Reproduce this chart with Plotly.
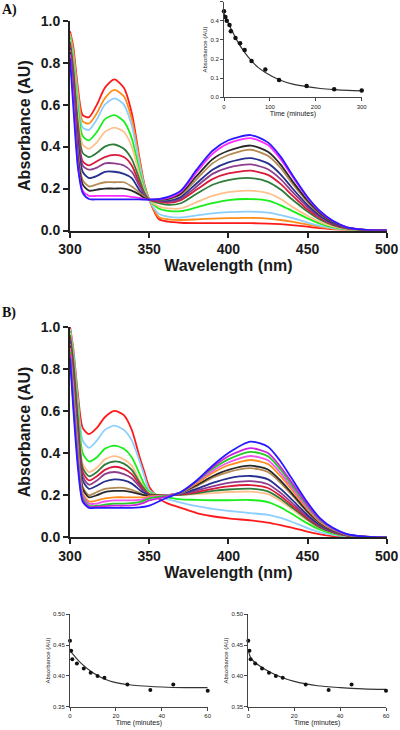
import plotly.graph_objects as go

# ---------------- data ----------------
wavelength = [300, 302, 305, 308, 312, 317, 322, 328, 334, 339, 344, 347, 350,
              356, 362, 370, 380, 390, 400, 414, 425, 433, 440, 450, 458, 466, 475, 485, 495, 500]

# Panel A spectra (first scan -> last scan)
a_red = [.95,.88,.68,.55,.54,.60,.68,.72,.68,.56,.34,.22,.147, .055,.042,.037,.035,.035,.035,.035,.033,.03,.026,.018,.011,.006,.002,0,0,0]
a_orange = [.94,.86,.66,.52,.51,.56,.63,.67,.64,.53,.33,.21,.147, .065,.053,.05,.053,.057,.059,.06,.057,.05,.042,.028,.017,.008,.003,.001,0,0]
a_lightblue = [.93,.84,.63,.49,.48,.53,.60,.63,.60,.50,.31,.21,.147, .08,.066,.062,.072,.082,.088,.09,.085,.073,.06,.038,.022,.011,.004,.001,0,0]
a_green = [.92,.82,.59,.45,.43,.47,.53,.55,.52,.44,.28,.20,.147, .105,.094,.092,.11,.13,.145,.15,.142,.12,.095,.058,.033,.016,.006,.002,0,0]
a_peach = [.91,.80,.55,.41,.39,.42,.47,.49,.47,.40,.26,.19,.147, .115,.105,.105,.135,.165,.183,.19,.178,.15,.115,.07,.04,.02,.007,.002,0,0]
a_darkgreen = [.90,.78,.51,.37,.35,.37,.40,.41,.39,.34,.24,.18,.147, .13,.122,.13,.175,.218,.24,.25,.232,.195,.15,.09,.051,.026,.009,.002,0,0]
a_crimson = [.89,.76,.48,.33,.31,.33,.35,.36,.35,.31,.22,.17,.147, .138,.132,.145,.195,.245,.272,.285,.265,.222,.17,.1,.058,.029,.01,.003,0,0]
a_purple = [.88,.74,.45,.31,.29,.30,.32,.32,.31,.28,.21,.17,.147, .142,.137,.152,.21,.27,.30,.315,.292,.245,.188,.112,.064,.032,.011,.003,0,0]
a_navy = [.87,.72,.42,.28,.25,.26,.28,.28,.27,.25,.19,.16,.147, .145,.142,.16,.225,.29,.325,.345,.32,.268,.205,.122,.07,.035,.012,.003,0,0]
a_tan = [.86,.70,.38,.24,.21,.22,.23,.23,.23,.21,.18,.16,.147, .147,.148,.17,.245,.32,.36,.385,.356,.298,.228,.136,.078,.039,.013,.004,0,0]
a_black = [.85,.68,.35,.22,.19,.195,.20,.20,.20,.19,.17,.155,.147, .148,.151,.176,.26,.34,.38,.405,.375,.314,.24,.143,.082,.041,.014,.004,0,0]
a_magenta = [.84,.65,.32,.19,.165,.165,.165,.165,.165,.16,.155,.15,.147, .149,.155,.184,.278,.365,.415,.44,.407,.34,.262,.155,.089,.045,.015,.004,0,0]
a_blue = [.82,.60,.30,.18,.15,.148,.148,.148,.148,.148,.148,.147,.147, .15,.16,.19,.29,.38,.43,.455,.42,.352,.27,.16,.092,.046,.015,.004,0,0]

# Panel B spectra
b_red = [1.0,.90,.68,.52,.49,.52,.57,.60,.58,.51,.38,.31,.24, .185,.16,.14,.115,.10,.09,.08,.07,.058,.046,.027,.014,.006,.002,0,0,0]
b_lightblue = [.99,.89,.65,.46,.425,.46,.51,.53,.51,.46,.36,.29,.225, .195,.18,.165,.148,.135,.125,.115,.107,.092,.074,.044,.024,.011,.004,.001,0,0]
b_green = [.98,.87,.62,.40,.36,.38,.42,.435,.42,.38,.30,.25,.215, .2,.19,.18,.178,.176,.176,.177,.167,.142,.112,.066,.036,.018,.006,.002,0,0]
b_peach = [.97,.85,.58,.35,.31,.33,.37,.385,.37,.34,.27,.235,.21, .2,.2,.2,.205,.21,.215,.217,.205,.172,.135,.08,.044,.022,.007,.002,0,0]
b_darkgreen = [.96,.84,.56,.33,.29,.31,.345,.36,.35,.32,.26,.23,.205, .2,.2,.202,.21,.22,.227,.231,.218,.183,.143,.085,.046,.023,.008,.002,0,0]
b_crimson = [.95,.82,.54,.31,.27,.29,.32,.335,.325,.30,.25,.22,.203, .2,.2,.204,.215,.23,.242,.248,.234,.196,.153,.09,.05,.025,.008,.002,0,0]
b_purple = [.94,.80,.52,.29,.25,.27,.30,.31,.30,.28,.24,.215,.20, .2,.2,.206,.222,.242,.258,.267,.252,.211,.165,.097,.054,.027,.009,.002,0,0]
b_navy = [.93,.78,.50,.27,.23,.245,.265,.275,.27,.255,.225,.21,.20, .2,.2,.208,.23,.258,.28,.291,.275,.23,.18,.106,.058,.029,.01,.003,0,0]
b_tan = [.92,.76,.47,.24,.20,.215,.23,.235,.235,.225,.21,.20,.198, .2,.2,.21,.243,.283,.31,.328,.31,.259,.202,.119,.066,.033,.011,.003,0,0]
b_black = [.91,.74,.45,.23,.19,.20,.215,.22,.22,.215,.205,.20,.198, .2,.2,.211,.248,.29,.32,.34,.322,.269,.21,.123,.068,.034,.011,.003,0,0]
b_orange = [.90,.72,.43,.21,.17,.175,.185,.19,.19,.19,.19,.19,.195, .198,.2,.212,.256,.305,.342,.367,.348,.29,.226,.133,.073,.037,.012,.003,0,0]
b_pink = [.89,.70,.41,.20,.16,.16,.17,.175,.175,.175,.178,.183,.19, .195,.2,.213,.262,.315,.355,.386,.366,.305,.238,.14,.077,.039,.013,.003,0,0]
b_green2 = [.88,.68,.39,.19,.15,.15,.155,.16,.16,.162,.167,.175,.185, .192,.198,.213,.266,.325,.37,.406,.385,.321,.25,.147,.081,.041,.013,.004,0,0]
b_magenta = [.87,.65,.36,.18,.145,.145,.148,.15,.15,.152,.158,.165,.175, .185,.195,.214,.268,.333,.385,.423,.40,.334,.261,.154,.085,.042,.014,.004,0,0]
b_blue = [.85,.62,.33,.17,.14,.14,.14,.14,.14,.14,.142,.145,.15, .17,.19,.215,.27,.34,.40,.454,.43,.36,.28,.165,.09,.045,.015,.004,0,0]

# Inset (panel A) kinetics
inset_time = [0, 3, 6, 12, 15, 25, 35, 45, 60, 90, 120, 180, 240, 300]
inset_abs = [0.45, 0.42, 0.40, 0.378, 0.345, 0.31, 0.283, 0.248, 0.19, 0.146, 0.09, 0.059, 0.042, 0.035]
inset_fit_time = [0, 10, 20, 30, 45, 60, 75, 90, 120, 150, 180, 210, 240, 270, 300]
inset_fit_abs = [0.44, 0.385, 0.336, 0.29, 0.235, 0.19, 0.155, 0.13, 0.092, 0.069, 0.056, 0.046, 0.04, 0.036, 0.034]

# Panel B kinetics (two fits of the same data)
kin_time = [0, 0.5, 1, 3, 6, 9, 12, 15, 25, 35, 45, 60]
kin_abs = [0.457, 0.441, 0.427, 0.420, 0.412, 0.405, 0.400, 0.397, 0.386, 0.377, 0.386, 0.376]
fit1_time = [0, 2, 5, 10, 15, 20, 25, 30, 40, 50, 60]
fit1_abs = [0.441, 0.432, 0.42, 0.405, 0.395, 0.389, 0.386, 0.384, 0.382, 0.381, 0.381]
fit2_time = [0, 1, 2, 5, 10, 15, 20, 25, 30, 40, 50, 60]
fit2_abs = [0.44, 0.43, 0.425, 0.416, 0.405, 0.397, 0.391, 0.387, 0.384, 0.381, 0.379, 0.378]

a_series = [a_red, a_orange, a_lightblue, a_green, a_peach, a_darkgreen, a_crimson,
            a_purple, a_navy, a_tan, a_black, a_magenta, a_blue]
a_colors = ["#ff1a1a", "#ff8c1a", "#8ccfff", "#1aee1a", "#ffc08c", "#2f7d3a", "#d91a3a",
            "#8e3d8e", "#26308f", "#b58a52", "#2a2a2a", "#ff2bff", "#2a1aff"]
b_series = [b_red, b_lightblue, b_green, b_peach, b_darkgreen, b_crimson, b_purple, b_navy,
            b_tan, b_black, b_orange, b_pink, b_green2, b_magenta, b_blue]
b_colors = ["#ff1a1a", "#8ccfff", "#1aee1a", "#ffc08c", "#2f7d3a", "#d91a3a", "#8e3d8e", "#26308f",
            "#b58a52", "#2a2a2a", "#ff8c1a", "#ee55ee", "#22cc22", "#cc22dd", "#2a1aff"]

fig = go.Figure()

for ys, c in zip(a_series, a_colors):
    fig.add_trace(go.Scatter(x=wavelength, y=ys, mode="lines", xaxis="x", yaxis="y",
                             line=dict(color=c, width=1.8, shape="spline", smoothing=0.7)))
for ys, c in zip(b_series, b_colors):
    fig.add_trace(go.Scatter(x=wavelength, y=ys, mode="lines", xaxis="x3", yaxis="y3",
                             line=dict(color=c, width=1.8, shape="spline", smoothing=0.7)))

# inset
fig.add_trace(go.Scatter(x=inset_fit_time, y=inset_fit_abs, mode="lines", xaxis="x2", yaxis="y2",
                         line=dict(color="#333333", width=1.2, shape="spline")))
fig.add_trace(go.Scatter(x=inset_time, y=inset_abs, mode="markers", xaxis="x2", yaxis="y2",
                         marker=dict(color="#111111", size=4.5), cliponaxis=False))
# bottom kinetics
fig.add_trace(go.Scatter(x=fit1_time, y=fit1_abs, mode="lines", xaxis="x4", yaxis="y4",
                         line=dict(color="#333333", width=1.2, shape="spline")))
fig.add_trace(go.Scatter(x=kin_time, y=kin_abs, mode="markers", xaxis="x4", yaxis="y4",
                         marker=dict(color="#111111", size=4), cliponaxis=False))
fig.add_trace(go.Scatter(x=fit2_time, y=fit2_abs, mode="lines", xaxis="x5", yaxis="y5",
                         line=dict(color="#333333", width=1.2, shape="spline")))
fig.add_trace(go.Scatter(x=kin_time, y=kin_abs, mode="markers", xaxis="x5", yaxis="y5",
                         marker=dict(color="#111111", size=4), cliponaxis=False))

H = 730.0
def yd(top_px, bottom_px):
    return [1 - bottom_px / H, 1 - top_px / H]

big_font = dict(family="Liberation Sans, Arial, sans-serif", size=14, color="#1a1a1a", weight="bold")
big_title = dict(family="Liberation Sans, Arial, sans-serif", size=16, color="#1a1a1a", weight="bold")
small_font = dict(family="Liberation Sans, Arial, sans-serif", size=6, color="#222222")

def big_x(domain, anchor):
    return dict(domain=domain, anchor=anchor, range=[300, 500], tickvals=[300, 350, 400, 450, 500],
                showline=True, linecolor="#222222", linewidth=2, ticks="outside", ticklen=5,
                tickwidth=2, tickcolor="#222222", showgrid=False, zeroline=False, tickfont=big_font,
                automargin=False,
                title=dict(text="Wavelength (nm)", font=big_title, standoff=4))

def big_y(domain, anchor):
    return dict(domain=domain, anchor=anchor, range=[0, 1], tickvals=[0, 0.2, 0.4, 0.6, 0.8, 1.0],
                tickformat=".1f", showline=True, linecolor="#222222", linewidth=2, ticks="outside",
                ticklen=5, tickwidth=2, tickcolor="#222222", showgrid=False, zeroline=False,
                automargin=False,
                tickfont=big_font, title=dict(text="Absorbance (AU)", font=big_title, standoff=6))

def small_x(domain, anchor, rng, vals):
    return dict(domain=domain, anchor=anchor, range=rng, tickvals=vals, showline=True,
                linecolor="#444444", linewidth=1, ticks="outside", ticklen=3, tickwidth=1,
                tickcolor="#444444", showgrid=False, zeroline=False, tickfont=small_font,
                automargin=False,
                title=dict(text="Time (minutes)", font=dict(family="Liberation Sans, Arial, sans-serif", size=7, color="#222222"), standoff=2))

def small_y(domain, anchor, rng, vals, fmt):
    return dict(domain=domain, anchor=anchor, range=rng, tickvals=vals, tickformat=fmt,
                showline=True, linecolor="#444444", linewidth=1, ticks="outside", ticklen=3,
                tickwidth=1, tickcolor="#444444", showgrid=False, zeroline=False, tickfont=small_font,
                automargin=False,
                title=dict(text="Absorbance (AU)", font=dict(family="Liberation Sans, Arial, sans-serif", size=6, color="#222222"), standoff=2))

fig.update_layout(
    width=400, height=730, margin=dict(l=0, r=0, t=0, b=0, autoexpand=False),
    paper_bgcolor="white", plot_bgcolor="rgba(0,0,0,0)", showlegend=False,
    xaxis=big_x([70 / 400, 386.7 / 400], "y"),
    yaxis=big_y(yd(20.7, 230.5), "x"),
    xaxis2=small_x([224 / 400, 361.7 / 400], "y2", [0, 300], [0, 100, 200, 300]),
    yaxis2=small_y(yd(1.7, 97.3), "x2", [0, 0.5], [0, 0.1, 0.2, 0.3, 0.4, 0.5], ".1f"),
    xaxis3=big_x([70 / 400, 386.7 / 400], "y3"),
    yaxis3=big_y(yd(326.7, 537.3), "x3"),
    xaxis4=small_x([70 / 400, 207.7 / 400], "y4", [0, 60], [0, 20, 40, 60]),
    yaxis4=small_y(yd(614.3, 706.7), "x4", [0.35, 0.50], [0.35, 0.40, 0.45, 0.50], ".2f"),
    xaxis5=small_x([248.3 / 400, 386 / 400], "y5", [0, 60], [0, 20, 40, 60]),
    yaxis5=small_y(yd(614.3, 706.7), "x5", [0.35, 0.50], [0.35, 0.40, 0.45, 0.50], ".2f"),
    annotations=[
        dict(text="A)", x=0, y=1 - 10 / H, xref="paper", yref="paper", xanchor="left", yanchor="middle",
             showarrow=False, font=dict(family="Liberation Serif, Times New Roman, serif", size=14, color="#111111", weight="bold")),
        dict(text="B)", x=0, y=1 - 313 / H, xref="paper", yref="paper", xanchor="left", yanchor="middle",
             showarrow=False, font=dict(family="Liberation Serif, Times New Roman, serif", size=14, color="#111111", weight="bold")),
    ],
)

fig.write_html("out.html", config={"displayModeBar": False},
               post_script="document.body.style.margin='0';document.body.style.overflow='hidden';")
